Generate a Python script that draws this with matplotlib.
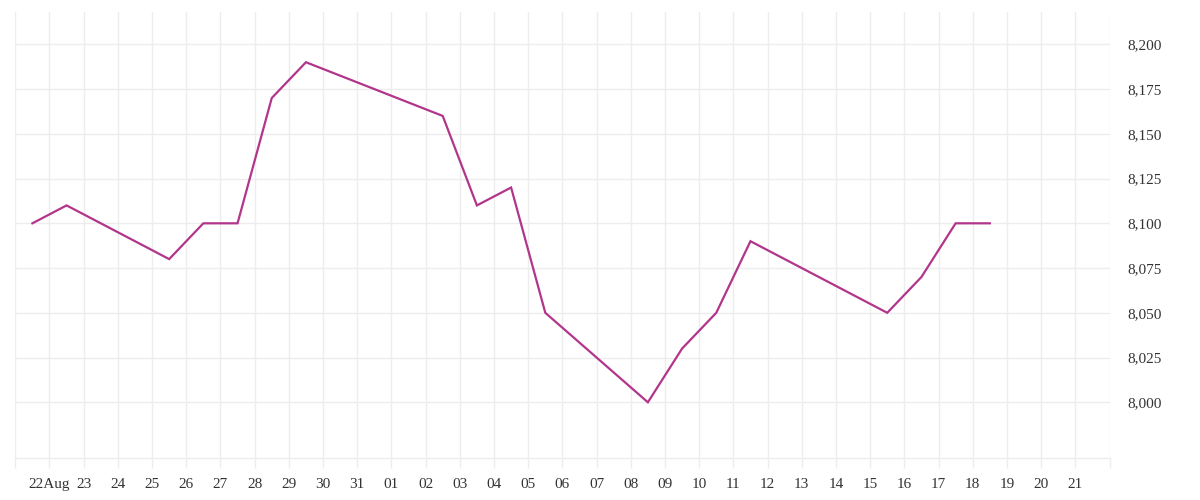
import matplotlib
matplotlib.use("Agg")
import matplotlib.pyplot as plt
import matplotlib.dates as mdates
import matplotlib.ticker as mticker
import pandas as pd

# daily values (plotted at midday)
dates = ["2023-08-21", "2023-08-22", "2023-08-25", "2023-08-26", "2023-08-27",
         "2023-08-28", "2023-08-29", "2023-09-02", "2023-09-03", "2023-09-04",
         "2023-09-05", "2023-09-08", "2023-09-09", "2023-09-10", "2023-09-11",
         "2023-09-15", "2023-09-16", "2023-09-17", "2023-09-18"]
values = [8100, 8110, 8080, 8100, 8100,
          8170, 8190, 8160, 8110, 8120,
          8050, 8000, 8030, 8050, 8090,
          8050, 8070, 8100, 8100]

tick_days = pd.date_range("2023-08-21", "2023-09-22", freq="D")
tick_labels = [""] + ["22Aug"] + [d.strftime("%d") for d in tick_days[2:-1]] + [""]
y_ticks = [8000, 8025, 8050, 8075, 8100, 8125, 8150, 8175, 8200]

plt.rcParams['font.family'] = ['Liberation Serif', 'DejaVu Serif']

fig = plt.figure(figsize=(12, 5), dpi=100)
ax = fig.add_axes([15.3/1200, 1-458.3/500, (1109.5-15.3)/1200, (458.3-12.3)/500])

x = pd.to_datetime(dates) + pd.Timedelta(hours=12)
ax.plot(x, values, color="#B2358C", lw=1.6, solid_joinstyle="miter")

ax.set_xlim(tick_days[0], tick_days[-1])
ax.set_ylim(7968.7, 8217.9)

ax.xaxis.set_major_locator(mticker.FixedLocator(mdates.date2num(tick_days)))
ax.set_xticklabels(tick_labels)
ax.yaxis.set_major_locator(mticker.FixedLocator(y_ticks))
ax.yaxis.set_major_formatter(mticker.FuncFormatter(lambda v, p: f"{v:,.0f}"))
ax.yaxis.tick_right()

ax.grid(True, color="#ededed", lw=1)
ax.set_axisbelow(True)
for s in ["top", "left", "right"]:
    ax.spines[s].set_visible(False)
ax.spines["bottom"].set_color("#ededed")
ax.spines["bottom"].set_linewidth(1)

ax.tick_params(axis="x", length=7.2, width=1, color="#ededed", pad=7, labelsize=11, labelcolor="#333333")
ax.tick_params(axis="y", length=0, pad=13, labelsize=11, labelcolor="#333333")

fig.savefig("out.png", dpi=100)
